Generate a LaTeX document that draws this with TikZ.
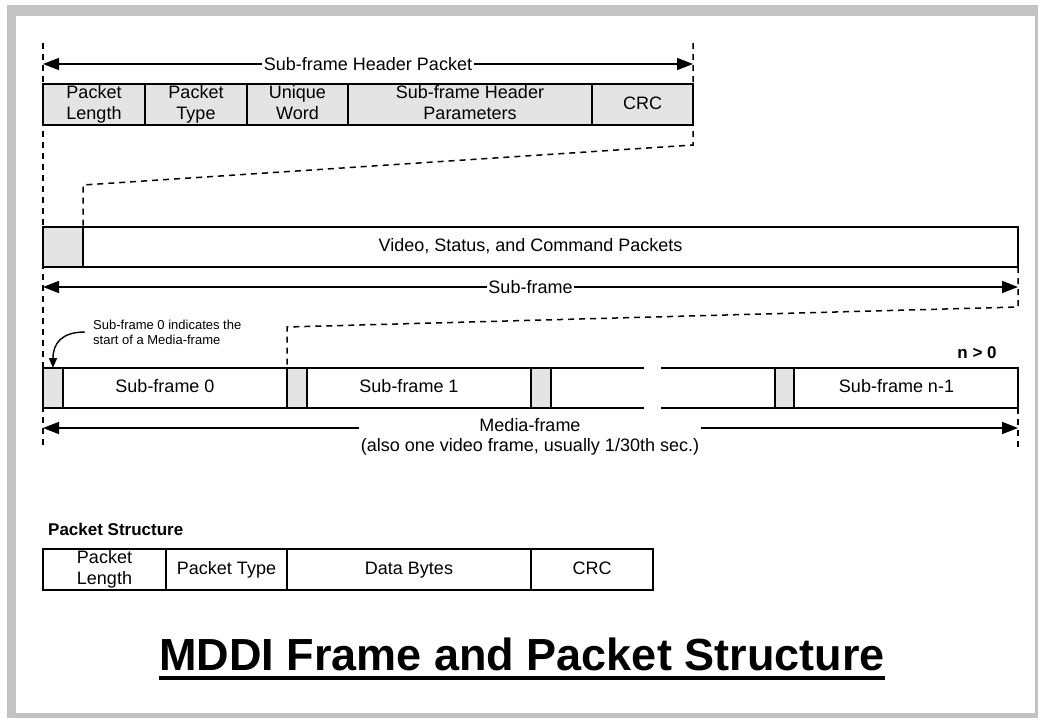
\documentclass[tikz,border=0pt]{standalone}
\usepackage{fontspec}
\setmainfont{Liberation Sans}
\usepackage{tikz}
\usetikzlibrary{arrows.meta,positioning}
\definecolor{cellgray}{HTML}{E4E4E4}
\definecolor{framegray}{HTML}{C3C3C3}
\newcommand{\pktfont}{\fontsize{18}{21}\selectfont}
\newcommand{\notefont}{\fontsize{13}{15}\selectfont}
\newcommand{\cellstrut}{\rule[-4pt]{0pt}{17pt}}
\tikzset{
    pktcell/.style={draw, line width=2pt, outer sep=0pt, inner sep=0pt, align=center, font=\pktfont, minimum height=41pt, fill=white,
        execute at begin node=\cellstrut, execute at end node=\cellstrut},
    graycell/.style={pktcell, fill=cellgray},
    framecell/.style={pktcell, minimum height=40pt},
    hdcell/.style={graycell, minimum height=40pt, anchor=north west},
    boxline/.style={line width=2pt},
    guide/.style={line width=1.5pt, dash pattern=on 6pt off 5pt},
    dimarrow/.style={{Triangle[length=16pt,width=12pt]}-{Triangle[length=16pt,width=12pt]}, line width=1.6pt},
    halfarrow/.style={-{Triangle[length=16pt,width=12pt]}, line width=1.6pt},
    dimlabel/.style={font=\pktfont, fill=white, inner sep=1.5pt},
    notearrow/.style={-{Triangle[length=10pt,width=8pt]}, line width=1.4pt},
    notelabel/.style={font=\notefont, align=left, inner sep=0pt},
    boldlabel/.style={font=\fontsize{17}{20}\selectfont\bfseries, inner sep=0pt},
    titlelabel/.style={font=\fontsize{45}{50}\selectfont\bfseries, inner sep=0pt}
}

\begin{document}
\begin{tikzpicture}[x=1pt, y=-1pt]
        \useasboundingbox (0,0) rectangle (1038,718);
        \fill[framegray] (7,5) rectangle (1038,718);
        \fill[white] (16,16) rectangle (1035,713);

        \draw[guide] (43,43) -- (43,448);

        \node[graycell, minimum width=102pt, anchor=north west] (hdrlen) at (43,84) {Packet\\Length};
        \node[graycell, minimum width=102pt, right=0pt of hdrlen] (hdrtype) {Packet\\Type};
        \node[graycell, minimum width=101pt, right=0pt of hdrtype] (hdrword) {Unique\\Word};
        \node[graycell, minimum width=244pt, right=0pt of hdrword] (hdrparams) {Sub-frame Header\\Parameters};
        \node[graycell, minimum width=101pt, right=0pt of hdrparams] (hdrcrc) {CRC};

        \coordinate (hdrleft) at (43,64);
        \coordinate (hdrright) at (693,64);
        \draw[dimarrow] (hdrleft) -- node[dimlabel] {Sub-frame Header Packet} (hdrright);

        \node[framecell, minimum width=975pt, anchor=north west] (vspkts) at (43,227) {Video, Status, and Command Packets};
        \node[hdcell, minimum width=40pt] (vsgray) at (vspkts.north west) {};
        \draw[guide] (693,43) -- (hdrcrc.south east) -- (693,145) -- (83,185) -- (vsgray.north east);

        \coordinate (sfleft) at (43,287);
        \coordinate (sfright) at (1018,287);
        \draw[dimarrow] (sfleft) -- node[dimlabel] {Sub-frame} (sfright);

        \node[framecell, minimum width=244pt, anchor=north west] (sf0) at (43,368) {Sub-frame 0};
        \node[hdcell, minimum width=20pt] (sf0gray) at (sf0.north west) {};
        \node[framecell, minimum width=244pt, right=0pt of sf0] (sf1) {Sub-frame 1};
        \node[hdcell, minimum width=20pt] (sf1gray) at (sf1.north west) {};
        \node[hdcell, minimum width=20pt] (sf2gray) at (sf1.north east) {};
        \draw[boxline] (sf2gray.north east) -- ++(93,0);
        \draw[boxline] (sf2gray.south east) -- ++(93,0);
        \node[framecell, minimum width=243pt, anchor=north east] (sflast) at (1018,368) {Sub-frame n-1};
        \node[hdcell, minimum width=19pt] (sflastgray) at (sflast.north west) {};
        \draw[boxline] (sflastgray.north west) -- ++(-114,0);
        \draw[boxline] (sflastgray.south west) -- ++(-114,0);
        \node[boldlabel] (ncount) at (977,353) {n > 0};

        \draw[guide] (vspkts.south east) -- (1018,307) -- (287,327) -- (sf1gray.north west);
        \draw[guide] (sflast.south east) -- (1018,448);

        \node[notelabel, anchor=west] (note) at (93,332) {Sub-frame 0 indicates the\\start of a Media-frame};
        \draw[notearrow] ([xshift=-8pt]note.west) .. controls (62,332) and (53,343) .. (sf0gray.north);

        \coordinate (mfleft) at (43,428);
        \coordinate (mfright) at (1018,428);
        \node[font=\fontsize{18}{20}\selectfont, align=center, inner sep=2pt] (mflabel) at (530,437) {Media-frame\\(also one video frame, usually 1/30th sec.)};
        \draw[halfarrow] (mflabel.west |- mfleft) -- (mfleft);
        \draw[halfarrow] (mflabel.east |- mfright) -- (mfright);

        \node[boldlabel, anchor=base west] (pstitle) at (48,535) {Packet Structure};
        \node[pktcell, minimum width=123pt, anchor=north west] (pslen) at (43,549) {Packet\\Length};
        \node[pktcell, minimum width=121pt, right=0pt of pslen] (pstype) {Packet Type};
        \node[pktcell, minimum width=244pt, right=0pt of pstype] (psdata) {Data Bytes};
        \node[pktcell, minimum width=122pt, right=0pt of psdata] (pscrc) {CRC};

        \node[titlelabel, anchor=base] (title) at (522,670) {MDDI Frame and Packet Structure};
        \draw[line width=4pt] ([yshift=-8pt]title.base west) -- ([yshift=-8pt]title.base east);
    \end{tikzpicture}
\end{document}
